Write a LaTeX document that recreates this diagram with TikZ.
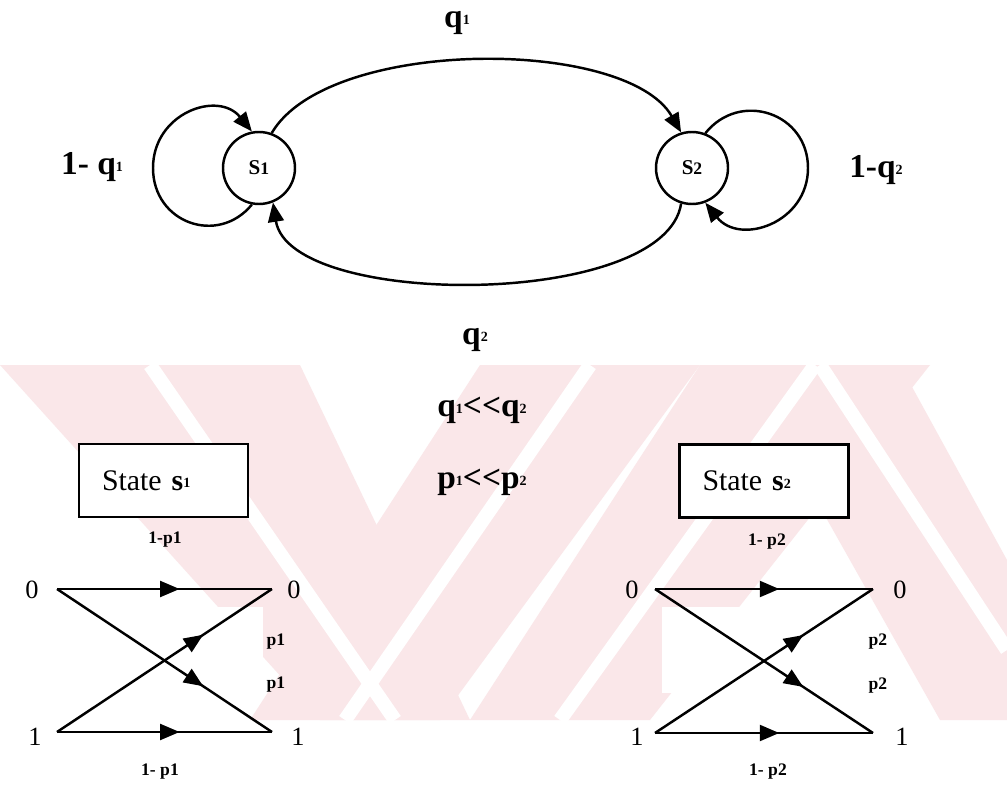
\documentclass[tikz,border=0pt]{standalone}
\usepackage{fontspec}
\setmainfont{Liberation Serif}
\usetikzlibrary{arrows.meta,decorations.markings}

\definecolor{wmpink}{RGB}{250,231,233}
\newcommand{\sub}[1]{\raisebox{0.2ex}{\fontsize{8}{8}\selectfont #1}}
\newcommand{\lessless}{<\kern0pt<}

\begin{document}
\begin{tikzpicture}[x=0.2mm, y=0.2mm,
  state/.style={draw, circle, line width=1.4pt, minimum size=14.4mm, inner sep=0pt,
                font=\fontsize{12}{12}\selectfont\bfseries},
  statebox/.style={draw, line width=1.4pt, minimum width=33.8mm, minimum height=14.6mm,
                   inner xsep=4.6mm, text width=24.6mm, align=left, fill=white,
                   font=\fontsize{17}{17}\selectfont},
  biglbl/.style={font=\fontsize{19}{19}\selectfont\bfseries},
  smalllbl/.style={font=\fontsize{10}{10}\selectfont\bfseries},
  digit/.style={font=\fontsize{15}{15}\selectfont},
  arr/.style={-{Triangle[length=11pt,width=9pt]}, line width=1.4pt},
  edge/.style={line width=1.4pt},
  midarrow/.style={edge, postaction={decorate}, decoration={markings,
                   mark=at position #1 with {\arrow{Triangle[length=11pt,width=9pt]}}}},
  wm/.style={fill=wmpink, draw=none},
  wmgap/.style={draw=white, line width=8pt}
]
  \useasboundingbox[fill=white] (0,0) rectangle (1007,787);

  % watermark in the background
  \fill[wm] (0,422) -- (300,422) -- (470,67) -- (320,67) -- cycle;
  \fill[wm] (480,422) -- (700,422) -- (440,67) -- (250,67) -- cycle;
  \fill[wm] (700,422) -- (930,422) -- (650,67) -- (470,67) -- cycle;
  \fill[wm] (740,422) -- (900,422) -- (1007,227) -- (1007,67) -- (940,67) -- cycle;
  \draw[wmgap] (150,422) -- (395,67);
  \draw[wmgap] (590,422) -- (345,67);
  \draw[wmgap] (815,422) -- (560,67);
  \draw[wmgap] (820,422) -- (1007,137);
  \fill[white] (60,94) rectangle (263,180);
  \fill[white] (662,94) rectangle (868,180);

  % markov chain
  \node[state] (S1) at (259,619) {S{\fontsize{10}{10}\selectfont 1}};
  \node[state] (S2) at (692,619) {S{\fontsize{10}{10}\selectfont 2}};
  \coordinate (loop1) at (153,619);
  \coordinate (loop2) at (808,619);

  \draw[arr] (S1.70) .. controls (328,750) and (626,750) .. (S2.107);
  \draw[arr] (S2.-107) .. controls (665,478) and (290,478) .. (S1.-68);
  \draw[arr] (S1.-101) .. controls (218,541) and (153,564) .. (loop1)
                       .. controls (153,674) and (218,697) .. (S1.101);
  \draw[arr] (S2.69) .. controls (740,697) and (808,674) .. (loop2)
                     .. controls (808,564) and (740,541) .. (S2.-69);

  \node[biglbl] (q1) at (457,764) {q\sub{1}};
  \node[biglbl] (q2) at (475,447) {q\sub{2}};
  \node[biglbl] (stay1) at (92,620) {1- q\sub{1}};
  \node[biglbl] (stay2) at (876,617) {1-q\sub{2}};

  \node[biglbl] (qrel) at (482,377) {q\sub{1}\lessless q\sub{2}};
  \node[biglbl] (prel) at (482,305) {p\sub{1}\lessless p\sub{2}};

  % channel in state s1
  \node[statebox] (box1) at (163.5,306.5) {State \textbf{s}\sub{\bfseries 1}};
  \node[smalllbl] (keep1) at (165,247) {1-p1};

  \coordinate (in0a) at (57,198);
  \coordinate (out0a) at (272,198);
  \coordinate (in1a) at (57,55);
  \coordinate (out1a) at (272,55);
  \node[digit] (x0a) at (32,197) {0};
  \node[digit] (y0a) at (294,197) {0};
  \node[digit] (x1a) at (35,50) {1};
  \node[digit] (y1a) at (298,50) {1};

  \draw[midarrow=0.57] (in0a) -- (out0a);
  \draw[midarrow=0.57] (in1a) -- (out1a);
  \draw[midarrow=0.68] (in0a) -- (out1a);
  \draw[midarrow=0.68] (in1a) -- (out0a);

  \node[smalllbl] (flip1a) at (276,145) {p1};
  \node[smalllbl] (flip1b) at (276,102) {p1};
  \node[smalllbl] (keep1b) at (160,15) {1- p1};

  % channel in state s2
  \node[statebox] (box2) at (764,306) {State \textbf{s}\sub{\bfseries 2}};
  \node[smalllbl] (keep2) at (767,245) {1- p2};

  \coordinate (in0b) at (655,198);
  \coordinate (out0b) at (873,198);
  \coordinate (in1b) at (655,54);
  \coordinate (out1b) at (873,54);
  \node[digit] (x0b) at (632,197) {0};
  \node[digit] (y0b) at (900,197) {0};
  \node[digit] (x1b) at (637,50) {1};
  \node[digit] (y1b) at (902,50) {1};

  \draw[midarrow=0.57] (in0b) -- (out0b);
  \draw[midarrow=0.57] (in1b) -- (out1b);
  \draw[midarrow=0.68] (in0b) -- (out1b);
  \draw[midarrow=0.68] (in1b) -- (out0b);

  \node[smalllbl] (flip2a) at (878,145) {p2};
  \node[smalllbl] (flip2b) at (878,101) {p2};
  \node[smalllbl] (keep2b) at (768,15) {1- p2};
\end{tikzpicture}
\end{document}
